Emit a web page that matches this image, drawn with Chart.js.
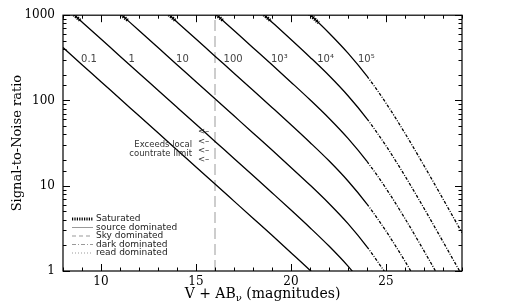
<!DOCTYPE html>
<html>
<head>
<meta charset="utf-8">
<title>Signal-to-Noise ratio vs magnitude</title>
<script src="https://cdn.jsdelivr.net/npm/chart.js@4.4.1/dist/chart.umd.min.js"></script>
<style>
  html, body { margin: 0; padding: 0; background: #fff; }
  canvas { display: block; }
</style>
</head>
<body>
<canvas id="snrChart" width="525" height="306"></canvas>
<script>
// exposure times of the curves
var exposureLabels = ['0.1', '1', '10', '100', '10\u00b3', '10\u2074', '10\u2075'];

// magnitude grid (V + AB_nu)
var magnitudes = [8, 9, 10, 11, 12, 13, 14, 15, 16, 17, 18, 19, 20, 21, 22, 23, 24, 25, 26, 27, 28, 29];

// S/N of each curve at the magnitudes above (null = off the plot)
var snr_0_1 = [417, 263, 166, 104.7, 66.1, 41.7, 26.3, 16.6, 10.47, 6.60, 4.16, 2.62, 1.64, 1.02, 0.62, null, null, null, null, null, null, null];
var snr_1   = [1318, 832, 525, 331, 209, 131.8, 83.2, 52.5, 33.1, 20.9, 13.16, 8.28, 5.19, 3.22, 1.96, 1.14, 0.61, null, null, null, null, null];
var snr_10  = [null, null, 1660, 1047, 661, 417, 263, 166, 104.7, 66.0, 41.6, 26.2, 16.4, 10.19, 6.19, 3.59, 1.92, 0.93, null, null, null, null];
var snr_100 = [null, null, null, null, null, 1318, 832, 525, 331, 209, 131.6, 82.8, 51.9, 32.2, 19.6, 11.36, 6.09, 2.94, 1.30, 0.54, null, null];
var snr_1e3 = [null, null, null, null, null, null, null, 1660, 1047, 660, 416, 262, 164, 101.9, 61.9, 35.9, 19.25, 9.31, 4.12, 1.72, 0.70, null];
var snr_1e4 = [null, null, null, null, null, null, null, null, null, null, 1316, 828, 519, 322, 196, 113.6, 60.9, 29.4, 13.0, 5.44, 2.21, 0.89];
var snr_1e5 = [null, null, null, null, null, null, null, null, null, null, null, null, 1642, 1020, 619, 359, 192.5, 93.1, 41.2, 17.2, 7.0, 2.81];
var snrSeries = [snr_0_1, snr_1, snr_10, snr_100, snr_1e3, snr_1e4, snr_1e5];

// saturated pieces at the bright end (curves 1 .. 10^5)
var satFromMag = [8.1, 10.6, 13.1, 15.6, 18.1, 20.6];
var satToMag   = [8.95, 11.45, 13.95, 16.45, 18.95, 21.45];
var satFromSnr = [1259, 1259, 1259, 1259, 1259, 1236];
var satToSnr   = [851, 851, 851, 851, 850, 815];

// sky dominates fainter than this magnitude
var skyFromMag = 24;
// local countrate limit
var countrateLimitMag = 16;

// legend entries
var regimeLabels = ['Saturated', 'source dominated', 'Sky dominated', 'dark dominated', 'read dominated'];

// S/N where the exposure labels sit
var labelSnr = 300;

function toPoints(vals) {
    var pts = [];
    for (var i = 0; i < magnitudes.length; i++) {
        if (vals[i] !== null) pts.push({x: magnitudes[i], y: vals[i]});
    }
    return pts;
}

var datasets = [];
snrSeries.forEach(function(vals, i) {
    datasets.push({
        label: exposureLabels[i],
        data: toPoints(vals),
        borderColor: '#000',
        borderWidth: 1.3,
        pointRadius: 0,
        cubicInterpolationMode: 'monotone',
        order: 1,
        segment: {
            borderDash: function(ctx) {
                return ctx.p0.parsed.x >= skyFromMag ? [3, 1.5, 1, 1.5] : undefined;
            }
        }
    });
});

var satPoints = [];
for (var k = 0; k < satFromMag.length; k++) {
    satPoints.push({x: satFromMag[k], y: satFromSnr[k]});
    satPoints.push({x: satToMag[k], y: satToSnr[k]});
    satPoints.push({x: satToMag[k] + 0.01, y: null});
}
datasets.push({
    label: 'Saturated',
    data: satPoints,
    borderColor: '#000',
    borderWidth: 3.5,
    borderDash: [1.2, 1.2],
    pointRadius: 0,
    spanGaps: false,
    order: 0
});

datasets.push({
    label: 'limit',
    data: [{x: countrateLimitMag, y: 1}, {x: countrateLimitMag, y: 1000}],
    borderColor: '#cdcdcd',
    borderWidth: 2,
    borderDash: [11, 5],
    pointRadius: 0,
    order: 5
});

// ticks on all four sides, pointing inwards, plus the frame
var ticksAndFrame = {
    id: 'ticksAndFrame',
    afterDatasetsDraw: function(chart) {
        var ctx = chart.ctx, a = chart.chartArea;
        var xs = chart.scales.x, ys = chart.scales.y;
        ctx.save();
        ctx.strokeStyle = '#000';
        ctx.lineWidth = 1;
        ctx.setLineDash([]);
        ctx.beginPath();
        xs.ticks.forEach(function(t) {
            var px = Math.round(xs.getPixelForValue(t.value)) + 0.5;
            var len = t.value % 5 === 0 ? 7 : 3.5;
            ctx.moveTo(px, a.bottom); ctx.lineTo(px, a.bottom - len);
            ctx.moveTo(px, a.top); ctx.lineTo(px, a.top + len);
        });
        ys.ticks.forEach(function(t) {
            var py = Math.round(ys.getPixelForValue(t.value)) + 0.5;
            var l = Math.log10(t.value);
            var len = Math.abs(l - Math.round(l)) < 1e-9 ? 7 : 3.5;
            ctx.moveTo(a.left, py); ctx.lineTo(a.left + len, py);
            ctx.moveTo(a.right, py); ctx.lineTo(a.right - len, py);
        });
        ctx.stroke();
        ctx.lineWidth = 1.2;
        ctx.strokeRect(a.left, a.top, a.right - a.left, a.bottom - a.top);
        ctx.restore();
    }
};

// exposure labels, countrate note, legend and the x title
var annotations = {
    id: 'annotations',
    afterDraw: function(chart) {
        var ctx = chart.ctx, a = chart.chartArea;
        var xs = chart.scales.x, ys = chart.scales.y;
        ctx.save();

        // exposure labels next to each curve
        var py0 = ys.getPixelForValue(labelSnr);
        ctx.font = '10px "DejaVu Sans"';
        ctx.fillStyle = '#444';
        ctx.textAlign = 'left';
        ctx.textBaseline = 'middle';
        for (var i = 0; i < exposureLabels.length; i++) {
            var pts = chart.getDatasetMeta(i).data;
            for (var j = 0; j < pts.length - 1; j++) {
                var p = pts[j], q = pts[j + 1];
                if (p.y <= py0 && q.y >= py0) {
                    var px = p.x + (q.x - p.x) * (py0 - p.y) / (q.y - p.y);
                    ctx.fillText(exposureLabels[i], px + 4.5, py0);
                    break;
                }
            }
        }

        // countrate limit note
        var lx = xs.getPixelForValue(countrateLimitMag);
        ctx.font = '8.5px "DejaVu Sans"';
        ctx.fillStyle = '#333';
        ctx.textAlign = 'right';
        ctx.fillText('Exceeds local', lx - 23, a.top + 130);
        ctx.fillText('countrate limit', lx - 23, a.top + 139);
        ctx.textAlign = 'left';
        [117, 127, 136, 145].forEach(function(dy) {
            ctx.fillText('<\u2013', lx - 17, a.top + dy);
        });

        // legend
        var styles = [
            {dash: [1.2, 1.2], width: 3, color: '#000'},
            {dash: [], width: 1, color: '#999'},
            {dash: [4, 3], width: 1, color: '#999'},
            {dash: [4, 2, 1, 2], width: 1, color: '#999'},
            {dash: [1, 2], width: 1, color: '#999'}
        ];
        ctx.font = '9px "DejaVu Sans"';
        regimeLabels.forEach(function(txt, n) {
            var y = a.bottom - 52 + n * 8.5;
            var s = styles[n];
            ctx.strokeStyle = s.color;
            ctx.lineWidth = s.width;
            ctx.setLineDash(s.dash);
            ctx.beginPath();
            ctx.moveTo(a.left + 9, y);
            ctx.lineTo(a.left + 30, y);
            ctx.stroke();
            ctx.fillStyle = '#222';
            ctx.fillText(txt, a.left + 33, y);
        });
        ctx.setLineDash([]);

        // x title with subscript nu
        var big = '14px "DejaVu Serif"', small = '10px "DejaVu Serif"';
        var t1 = 'V + AB', t2 = '\u03bd', t3 = ' (magnitudes)';
        ctx.font = big;
        var w1 = ctx.measureText(t1).width, w3 = ctx.measureText(t3).width;
        ctx.font = small;
        var w2 = ctx.measureText(t2).width;
        var x0 = (a.left + a.right) / 2 - (w1 + w2 + w3) / 2;
        var yb = 298;
        ctx.fillStyle = '#000';
        ctx.textBaseline = 'alphabetic';
        ctx.font = big;
        ctx.fillText(t1, x0, yb);
        ctx.font = small;
        ctx.fillText(t2, x0 + w1, yb + 3);
        ctx.font = big;
        ctx.fillText(t3, x0 + w1 + w2, yb);
        ctx.restore();
    }
};

var ctx = document.getElementById('snrChart').getContext('2d');
var snrChart = new Chart(ctx, {
    type: 'line',
    data: { datasets: datasets },
    options: {
        responsive: false,
        animation: false,
        layout: { padding: { left: 0, right: 63, top: 12, bottom: 0 } },
        plugins: {
            legend: { display: false },
            tooltip: { enabled: false }
        },
        scales: {
            x: {
                type: 'linear',
                min: 8,
                max: 29,
                grid: { display: false, drawTicks: false },
                border: { display: false },
                ticks: {
                    stepSize: 1,
                    autoSkip: false,
                    maxRotation: 0,
                    padding: 4,
                    color: '#000',
                    font: { family: 'DejaVu Serif', size: 12 },
                    callback: function(v) { return v % 5 === 0 ? String(v) : ''; }
                },
                afterFit: function(scale) { scale.height = 35; }
            },
            y: {
                type: 'logarithmic',
                min: 1,
                max: 1000,
                grid: { display: false, drawTicks: false },
                border: { display: false },
                title: {
                    display: true,
                    text: 'Signal-to-Noise ratio',
                    color: '#000',
                    font: { family: 'DejaVu Serif', size: 13 },
                    padding: { top: 10, bottom: 0 }
                },
                ticks: {
                    autoSkip: false,
                    padding: 8,
                    color: '#000',
                    font: { family: 'DejaVu Serif', size: 12 },
                    callback: function(v) {
                        var l = Math.log10(v);
                        return Math.abs(l - Math.round(l)) < 1e-9 ? String(v) : '';
                    }
                },
                afterFit: function(scale) { scale.width = 63; }
            }
        }
    },
    plugins: [ticksAndFrame, annotations]
});
</script>
</body>
</html>
